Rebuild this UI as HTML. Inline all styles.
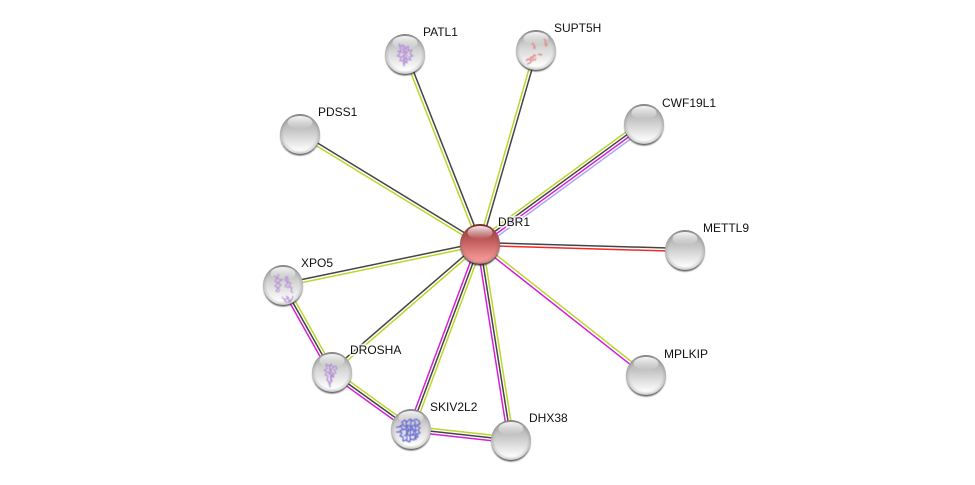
<!DOCTYPE html>
<html>
<head>
<meta charset="utf-8">
<style>
html,body{margin:0;padding:0;background:#fff;width:975px;height:485px;overflow:hidden}
svg{display:block}
text{font-family:"Liberation Sans",sans-serif;font-size:12px;fill:#111}
.halo{fill:#fff;stroke:#fff;stroke-width:3.5;stroke-opacity:.75;stroke-linejoin:round}
.g{stroke:#bcd62a}.k{stroke:#444}.m{stroke:#d81fd8}.b{stroke:#a9a9f8}.r{stroke:#f02a2a}
line{stroke-width:1.5}
.s{fill:none;stroke-linejoin:round;filter:url(#sb)}
</style>
</head>
<body>
<svg width="975" height="485" viewBox="0 0 975 485" xmlns="http://www.w3.org/2000/svg">
<defs>
<linearGradient id="gb" x1="0" y1="0" x2="0" y2="1">
<stop offset="0" stop-color="#8c8c8c"/><stop offset=".12" stop-color="#ababab"/><stop offset=".4" stop-color="#c6c6c6"/><stop offset=".7" stop-color="#e6e6e6"/><stop offset=".92" stop-color="#fdfdfd"/><stop offset="1" stop-color="#e8e8e8"/>
</linearGradient>
<linearGradient id="gw" x1="0" y1="0" x2="0" y2="1">
<stop offset="0" stop-color="#8c8c8c"/><stop offset=".12" stop-color="#aeaeae"/><stop offset=".4" stop-color="#d2d2d2"/><stop offset=".7" stop-color="#ececec"/><stop offset=".92" stop-color="#fff"/><stop offset="1" stop-color="#e8e8e8"/>
</linearGradient>
<linearGradient id="gr" x1="0" y1="0" x2="0" y2="1">
<stop offset="0" stop-color="#7a1818"/><stop offset=".12" stop-color="#a03c3c"/><stop offset=".45" stop-color="#c46060"/><stop offset=".8" stop-color="#ee8c8c"/><stop offset=".95" stop-color="#f49a9a"/><stop offset="1" stop-color="#c06a6a"/>
</linearGradient>
<radialGradient id="edge" cx=".5" cy=".5" r=".5">
<stop offset=".8" stop-color="#666" stop-opacity="0"/><stop offset="1" stop-color="#555" stop-opacity=".26"/>
</radialGradient>
<linearGradient id="hi" x1="0" y1="0" x2="0" y2="1">
<stop offset="0" stop-color="#fff" stop-opacity=".9"/><stop offset="1" stop-color="#fff" stop-opacity="0"/>
</linearGradient>
<filter id="bl" x="-30%" y="-30%" width="160%" height="160%"><feGaussianBlur stdDeviation=".8"/></filter>
<filter id="sb" x="-20%" y="-20%" width="140%" height="140%"><feGaussianBlur stdDeviation=".45"/></filter>
<g id="n">
<circle cx="0" cy="2" r="19.6" fill="#2a2a2a" opacity=".75" filter="url(#bl)"/>
<circle r="20" fill="url(#gb)"/><circle r="20" fill="url(#edge)"/>
<ellipse cx="0" cy="-11.5" rx="12.5" ry="6.5" fill="url(#hi)"/>
</g>
<g id="w">
<circle cx="0" cy="2" r="19.6" fill="#2a2a2a" opacity=".75" filter="url(#bl)"/>
<circle r="20" fill="url(#gw)"/><circle r="20" fill="url(#edge)"/>
<ellipse cx="0" cy="-11.5" rx="12.5" ry="6.5" fill="url(#hi)"/>
</g>
<g id="d">
<circle cx="0" cy="2" r="19.6" fill="#1a1a1a" opacity=".85" filter="url(#bl)"/>
<circle r="20" fill="url(#gr)"/><circle r="20" fill="url(#edge)"/>
<ellipse cx="0" cy="-11.5" rx="12.5" ry="6.5" fill="url(#hi)"/>
</g>
</defs>
<rect width="975" height="485" fill="#fff"/>

<!-- PATL1 -->
<line class="k" x1="406.4" y1="53.45" x2="481.4" y2="243.45"/><line class="g" x1="403.6" y1="54.55" x2="478.6" y2="244.55"/>
<!-- SUPT5H -->
<line class="k" x1="537.4" y1="50.4" x2="481.4" y2="244.4"/><line class="g" x1="534.6" y1="49.6" x2="478.6" y2="243.6"/>
<!-- CWF19L1 -->
<line class="g" x1="641.54" y1="120.61" x2="477.54" y2="240.61"/><line class="k" x1="643.18" y1="122.87" x2="479.18" y2="242.87"/><line class="m" x1="644.82" y1="125.13" x2="480.82" y2="245.13"/><line class="b" x1="646.46" y1="127.39" x2="482.46" y2="247.39"/>
<!-- METTL9 -->
<line class="k" x1="685" y1="248.5" x2="480" y2="242.5"/><line class="r" x1="685" y1="251.5" x2="480" y2="245.5"/>
<!-- MPLKIP -->
<line class="g" x1="646.93" y1="373.82" x2="480.93" y2="242.82"/><line class="m" x1="645.07" y1="376.18" x2="479.07" y2="245.18"/>
<!-- DHX38 -->
<line class="m" x1="508.23" y1="440.44" x2="477.23" y2="244.44"/><line class="k" x1="511" y1="440" x2="480" y2="244"/><line class="g" x1="513.77" y1="439.56" x2="482.77" y2="243.56"/>
<!-- SKIV2L2 -->
<line class="m" x1="408.38" y1="428.02" x2="477.38" y2="243.02"/><line class="k" x1="411" y1="429" x2="480" y2="244"/><line class="g" x1="413.62" y1="429.98" x2="482.62" y2="244.98"/>
<!-- DROSHA -->
<line class="k" x1="331" y1="370.9" x2="479" y2="242.9"/><line class="g" x1="333" y1="373.1" x2="481" y2="245.1"/>
<!-- XPO5 -->
<line class="k" x1="282.7" y1="283.5" x2="479.7" y2="242.5"/><line class="g" x1="283.3" y1="286.5" x2="480.3" y2="245.5"/>
<!-- PDSS1 -->
<line class="k" x1="300.78" y1="132.72" x2="480.78" y2="242.72"/><line class="g" x1="299.22" y1="135.28" x2="479.22" y2="245.28"/>
<!-- XPO5-DROSHA -->
<line class="m" x1="280.56" y1="286.37" x2="329.56" y2="373.37"/><line class="k" x1="283" y1="285" x2="332" y2="372"/><line class="g" x1="285.44" y1="283.63" x2="334.44" y2="370.63"/>
<!-- DROSHA-SKIV2L2 -->
<line class="g" x1="333.64" y1="369.73" x2="412.64" y2="426.73"/><line class="k" x1="332" y1="372" x2="411" y2="429"/><line class="m" x1="330.36" y1="374.27" x2="409.36" y2="431.27"/>
<!-- SKIV2L2-DHX38 -->
<line class="g" x1="411.31" y1="426.22" x2="511.31" y2="437.22"/><line class="k" x1="411" y1="429" x2="511" y2="440"/><line class="m" x1="410.69" y1="431.78" x2="510.69" y2="442.78"/>

<use href="#w" x="405" y="54"/>
<path class="s" d="M399 44l3 3 1-2 3 4 2-3 1 5 3-1-2 4 3 2-4 1 2 3-4-1 0 4-2-2-1 5-1-6-3 1 1-4-4-1 3-2-2-3 3 0zM402 48l5 8-3 5M408 50l-6 7 6 2M400 52l8 1M405 46l-1 14" stroke="#b48ada" stroke-width="1.1"/>
<use href="#w" x="536" y="50"/>
<path class="s" d="M526 61l2-2 2 1 1-3 2 1 1-3 2 1M527 64l3-1 2-3 3 0 1-2M532 43l2 2 1 3-2 0M544 39l2 2-1 2 2 2-2 1M538 54l3 1 1-1" stroke="#de8484" stroke-width="1.3"/>
<use href="#n" x="644" y="124"/>
<use href="#n" x="685" y="250"/>
<use href="#n" x="646" y="375"/>
<use href="#n" x="300" y="134"/>
<use href="#w" x="283" y="285"/>
<path class="s" d="M274 276l3 2-2 3 3 2-3 3 3 2-2 3 3 1M279 274l-2 4 4 2-3 3 3 2-3 3 2 3M285 277l3 2 0 3 3 1-2 3 3 2-1 3 2 2M288 276l-3 4 3 3-3 3 4 2M280 281l3-2M282 297l3 3 3-2 1 3 3-2 1-3M284 301l3 1 3 0 2-3M286 296l3 2" stroke="#b48ed6" stroke-width="1.1"/>
<use href="#w" x="332" y="372"/>
<path class="s" d="M326 364l3 2 2-2 2 3 3-1 1 3-3 1 2 3-3 1 1 3-3 0 1 4-2 2 0 4-1-5-2-2 1-4-3-1 2-3-3-2 3-1zM329 368l4 6-3 4M334 367l-6 6 5 3M330 365l1 18M327 378l2 5" stroke="#b48ed6" stroke-width="1.1"/>
<use href="#w" x="411" y="429"/>
<path class="s" d="M402 422l3-2 2 2 3-3 3 2 3-2 3 2 1 3-3 1 3 3-2 2 2 3-3 1 1 3-3 0-1 3-3-1-2 3-3-2-3 1 0-4-3-1 2-3-2-2 3-2-3-3 3-1zM403 425l3 2 2-2 3 2 3-2 3 2M402 430l4-1 2 2 3-2 3 2 3-1M404 436l3-2 3 2 3-2 3 2M406 421l1 20M411 420l-1 22M415 421l1 19M396 427l4 0M396 432l5 0M407 426l2 4-2 4M412 427l2 4-1 5" stroke="#6468d0" stroke-width="1.2"/>
<use href="#n" x="511" y="440"/>
<use href="#d" x="480" y="244"/>

<text class="halo" x="423" y="36">PATL1</text><text x="423" y="36">PATL1</text>
<text class="halo" x="554" y="32">SUPT5H</text><text x="554" y="32">SUPT5H</text>
<text class="halo" x="662" y="107">CWF19L1</text><text x="662" y="107">CWF19L1</text>
<text class="halo" x="703" y="232">METTL9</text><text x="703" y="232">METTL9</text>
<text class="halo" x="664" y="358">MPLKIP</text><text x="664" y="358">MPLKIP</text>
<text class="halo" x="529" y="422">DHX38</text><text x="529" y="422">DHX38</text>
<text class="halo" x="430" y="411">SKIV2L2</text><text x="430" y="411">SKIV2L2</text>
<text class="halo" x="350" y="354">DROSHA</text><text x="350" y="354">DROSHA</text>
<text class="halo" x="301" y="267">XPO5</text><text x="301" y="267">XPO5</text>
<text class="halo" x="318" y="116">PDSS1</text><text x="318" y="116">PDSS1</text>
<text class="halo" x="498" y="226">DBR1</text><text x="498" y="226">DBR1</text>
</svg>
</body>
</html>
